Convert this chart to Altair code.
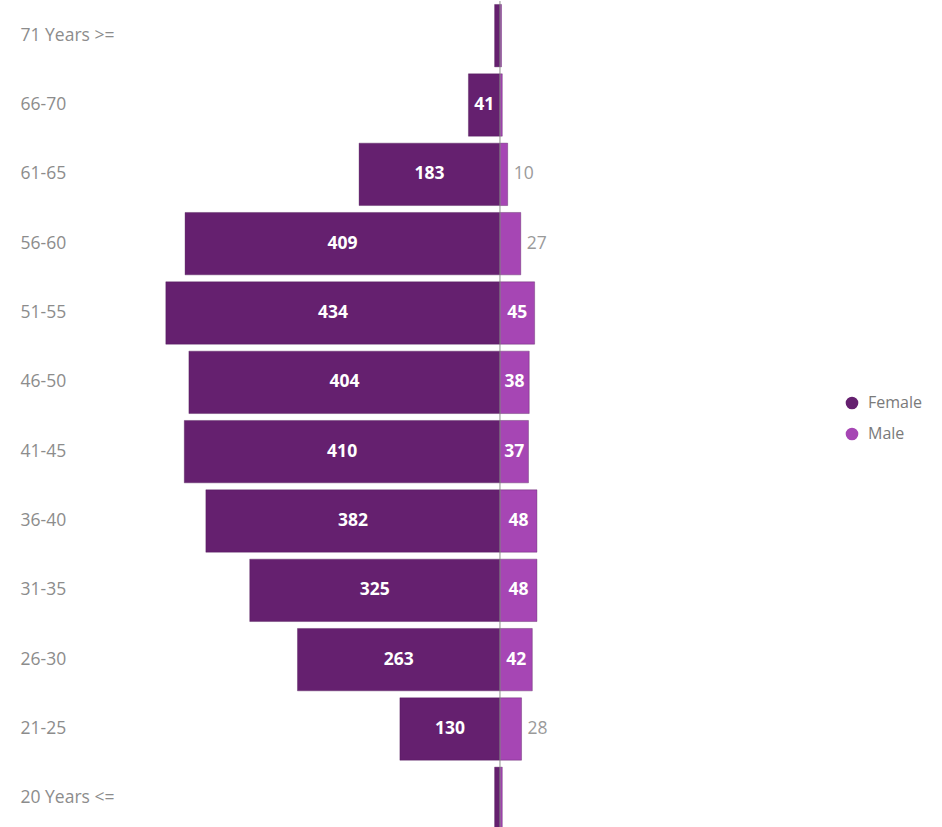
import altair as alt
import pandas as pd

ages = ["71 Years >=", "66-70", "61-65", "56-60", "51-55", "46-50",
        "41-45", "36-40", "31-35", "26-30", "21-25", "20 Years <="]
female = [7, 41, 183, 409, 434, 404, 410, 382, 325, 263, 130, 7]
male = [2, 3, 10, 27, 45, 38, 37, 48, 48, 42, 28, 3]
genders = ["Female", "Male"]
colors = ["#65206f", "#a646b4"]

rows = []
for a, f, m in zip(ages, female, male):
    rows.append({"age": a, "gender": "Female", "value": f, "signed": -f})
    rows.append({"age": a, "gender": "Male", "value": m, "signed": m})
df = pd.DataFrame(rows)

FONT = "Open Sans"

xscale = alt.Scale(domain=[-480.5, 428.6], nice=False, zero=False)
yscale = alt.Scale(domain=ages, paddingInner=0.1, paddingOuter=0.05)

base = alt.Chart(df)

bars = base.mark_bar(stroke="#4a1452", strokeOpacity=0.35, strokeWidth=1).encode(
    x=alt.X("signed:Q", scale=xscale, axis=None),
    y=alt.Y("age:N", sort=ages, scale=yscale, title=None,
            axis=alt.Axis(domain=False, ticks=False, grid=False,
                          labelAlign="left", labelPadding=110,
                          labelFont=FONT, labelFontSize=17.5,
                          labelColor="#8c8c8c")),
    color=alt.Color("gender:N", scale=alt.Scale(domain=genders, range=colors),
                    legend=alt.Legend(title=None, orient="none",
                                      legendX=714, legendY=394,
                                      symbolType="circle", symbolSize=160,
                                      symbolStrokeWidth=0, padding=0,
                                      labelFont=FONT, labelFontSize=16,
                                      labelColor="#7a7a7a", labelOffset=8,
                                      rowPadding=15)),
)

inside = base.transform_filter(
    "(datum.gender == 'Female' && datum.value >= 20) || (datum.gender == 'Male' && datum.value >= 30)"
).transform_calculate(mid="datum.signed / 2").mark_text(
    color="white", fontWeight="bold", font=FONT, fontSize=17.5,
    align="center", baseline="middle"
).encode(
    x=alt.X("mid:Q", scale=xscale),
    y=alt.Y("age:N", sort=ages, scale=yscale),
    text="value:Q",
)

outside = base.transform_filter(
    "datum.gender == 'Male' && datum.value >= 5 && datum.value < 30"
).mark_text(
    color="#9a9a9a", font=FONT, fontSize=17.5, align="left",
    baseline="middle", dx=6
).encode(
    x=alt.X("signed:Q", scale=xscale),
    y=alt.Y("age:N", sort=ages, scale=yscale),
    text="value:Q",
)

center = alt.Chart(pd.DataFrame({"v": [0]})).mark_rule(
    color="#8f8f8f", strokeWidth=1
).encode(x=alt.X("v:Q", scale=xscale))

chart = alt.layer(bars, center, inside, outside).properties(
    width=700, height=832,
    background="white",
    autosize=alt.AutoSizeParams(type="none"),
    padding={"left": 130, "top": 1, "right": 112, "bottom": 0},
).configure_view(stroke=None, strokeWidth=0)

chart.save("out.html", embed_options={"renderer": "svg", "actions": False})
